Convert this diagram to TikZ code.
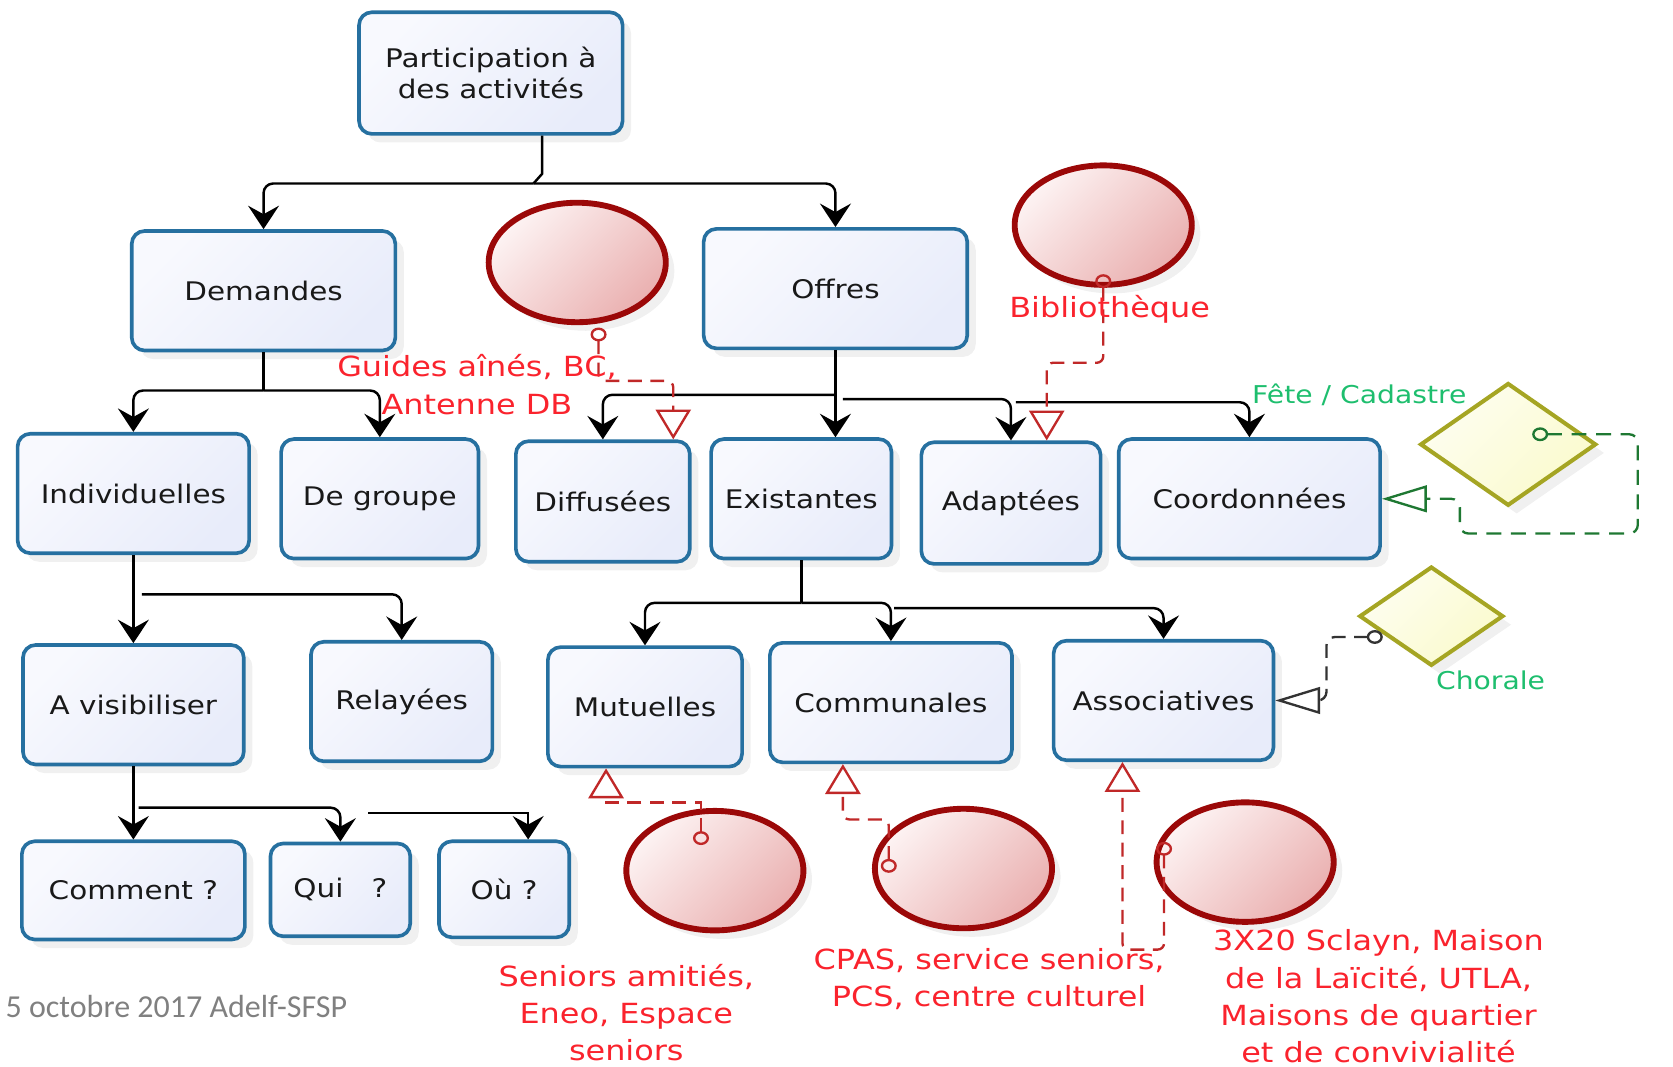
\documentclass[tikz,border=0pt]{standalone}
\usepackage{fontspec}
\setmainfont{DejaVu Sans}[FakeStretch=1.15]
\newfontfamily\footfont{Carlito}
\usetikzlibrary{arrows.meta,shapes.geometric,shadows,calc}
\definecolor{boxblue}{RGB}{38,112,160}
\definecolor{boxtop}{RGB}{248,249,254}
\definecolor{boxbot}{RGB}{232,236,250}
\definecolor{darkred}{RGB}{155,8,8}
\definecolor{pinktop}{RGB}{253,243,243}
\definecolor{pinkbot}{RGB}{234,176,176}
\definecolor{olivec}{RGB}{165,165,35}
\definecolor{diatop}{RGB}{254,254,240}
\definecolor{diabot}{RGB}{250,250,205}
\definecolor{assocred}{RGB}{192,40,40}
\definecolor{lblred}{RGB}{250,35,45}
\definecolor{lblgreen}{RGB}{30,190,110}
\definecolor{assocgreen}{RGB}{30,120,50}
\definecolor{footgray}{RGB}{128,128,128}
\begin{document}
\begin{tikzpicture}[x=1pt,y=-1pt,
  box/.style={draw=boxblue, line width=3.4pt, rounded corners=12pt, top color=boxtop, bottom color=boxbot, shading angle=45,
    drop shadow={opacity=0.12, shadow xshift=8pt, shadow yshift=-8pt}, inner sep=0pt,
    font=\fontsize{24}{29}\selectfont, text=black!90, align=center},
  pinkc/.style={ellipse, draw=darkred, line width=5.5pt, top color=pinktop, bottom color=pinkbot, shading angle=45,
    drop shadow={opacity=0.12, shadow xshift=8pt, shadow yshift=-8pt}, inner sep=0pt, minimum width=166pt, minimum height=112pt},
  dia/.style={diamond, draw=olivec, line width=3.8pt, top color=diatop, bottom color=diabot, shading angle=45,
    drop shadow={opacity=0.12, shadow xshift=8pt, shadow yshift=-8pt}, inner sep=0pt},
  line/.style={draw=black, line width=2.3pt, rounded corners=9pt},
  conn/.style={line, -{Stealth[length=22pt,width=29pt,inset=8pt]}},
  assocR/.style={draw=assocred, line width=2.2pt, dash pattern=on 13pt off 8pt, rounded corners=6pt},
  assocG/.style={draw=assocgreen, line width=2.2pt, dash pattern=on 14pt off 9pt, rounded corners=8pt},
  assocK/.style={draw=black!80, line width=2.2pt, dash pattern=on 13pt off 8pt, rounded corners=8pt},
  tipV/.style={{Circle[open,length=13pt,width=15pt]}-{Triangle[open,length=28pt,width=33pt]}},
  tipH/.style={{Circle[open,length=15pt,width=13pt]}-{Triangle[open,length=42pt,width=25pt]}},
  redlbl/.style={text=lblred, font=\fontsize{26}{35}\selectfont, align=center, inner sep=0pt},
  greenlbl/.style={text=lblgreen, font=\fontsize{23}{28}\selectfont, inner sep=0pt},
  foot/.style={text=footgray, font=\footfont\fontsize{30}{36}\selectfont, inner sep=0pt}
]
\useasboundingbox (0,0) rectangle (1568,1000);

% ---- boxes
\node[box, minimum width=247pt, minimum height=114pt] (part) at (460,68.5) {Participation à\\des activités};
\node[box, minimum width=247pt, minimum height=112pt] (dem) at (247,272.5) {Demandes};
\node[box, minimum width=247pt, minimum height=112pt] (off) at (783,270.5) {Offres};
\node[box, minimum width=217pt, minimum height=112pt] (ind) at (125,462.5) {Individuelles};
\node[box, minimum width=185pt, minimum height=112pt] (grp) at (356,467.5) {De groupe};
\node[box, minimum width=163pt, minimum height=113pt] (dif) at (565,470) {Diffusées};
\node[box, minimum width=169pt, minimum height=112pt] (exi) at (751,467.5) {Existantes};
\node[box, minimum width=168pt, minimum height=114pt] (ada) at (947.5,471.5) {Adaptées};
\node[box, minimum width=245pt, minimum height=112pt] (coo) at (1171,467.5) {Coordonnées};
\node[box, minimum width=207pt, minimum height=112pt] (vis) at (125,660.5) {A visibiliser};
\node[box, minimum width=170pt, minimum height=112pt] (rel) at (376.5,657.5) {Relayées};
\node[box, minimum width=182pt, minimum height=112pt] (mut) at (604.5,662.5) {Mutuelles};
\node[box, minimum width=227pt, minimum height=112pt] (com) at (835,658.5) {Communales};
\node[box, minimum width=206pt, minimum height=112pt] (ass) at (1090.5,656.5) {Associatives};
\node[box, minimum width=209pt, minimum height=92pt] (cmt) at (125,834.5) {Comment ?};
\node[box, minimum width=131pt, minimum height=87pt] (qui) at (319,834) {Qui~~~?};
\node[box, minimum width=122pt, minimum height=90pt] (ou) at (472.5,833.5) {Où ?};

% ---- ellipses
\node[pinkc] (e1) at (541,246) {};
\node[pinkc] (e2) at (1034,211) {};
\node[pinkc] (eA) at (670,816) {};
\node[pinkc] (eB) at (903,814) {};
\node[pinkc] (eC) at (1167,808) {};

% ---- diamonds
\node[dia, minimum width=165pt, minimum height=115pt] (d1) at (1413.5,416.5) {};
\node[dia, minimum width=135pt, minimum height=93pt] (d2) at (1341.5,577.5) {};

% ---- black connectors
\coordinate (j1a) at (508,163);
\coordinate (j1) at (500,172);
\draw[line, rounded corners=0pt] (part.south -| j1a) -- (j1a) -- (j1);
\draw[conn] (j1) -| (dem.north);
\draw[conn] (j1) -| (off.north);

\coordinate (j2) at (247,366);
\draw[line] (dem.south) -- (j2);
\draw[conn] (j2) -| (ind.north);
\draw[conn] (j2) -| (grp.north);

\coordinate (j3) at (783,370);
\draw[conn] (off.south) -- (j3 |- exi.north);
\draw[conn] (j3) -| (dif.north);
\coordinate (j3b) at (790,374);
\draw[conn] (j3b) -| (ada.north);
\coordinate (j3c) at (952,377);
\draw[conn] (j3c) -| (coo.north);

\draw[conn] (ind.south) -- (vis.north);
\coordinate (j4) at (133,557);
\draw[conn] (j4) -| (rel.north);

\draw[conn] (vis.south) -- (cmt.north);
\coordinate (j5) at (130,757);
\draw[conn] (j5) -| (qui.north);
\coordinate (j5b) at (345,762);
\coordinate (j5c) at (495,762);
\draw[conn, rounded corners=0pt] (j5b) -- (j5c) -- (j5c |- ou.north);

\coordinate (j6) at (751,565);
\draw[line] (exi.south) -- (j6);
\draw[conn] (j6) -| (mut.north);
\draw[conn] (j6) -| (com.north);
\coordinate (j6b) at (838,570);
\draw[conn] (j6b) -| (ass.north);

% ---- dashed associations
\coordinate (pA) at (561,307);
\coordinate (tA) at (631,357);
\draw[assocR, tipV] (pA) |- (tA) -- (tA |- dif.north);

\coordinate (pB) at (1034,257);
\coordinate (tB) at (981,340);
\draw[assocR, tipV] (pB) |- (tB) -- (tB |- ada.north);

\coordinate (pC) at (1436,407);
\coordinate (cC1) at (1535,500);
\coordinate (cC2) at ($(coo.east)+(73,0)$);
\draw[assocG, tipH] (pC) -| (cC1) -| (cC2) -- (coo.east);

\coordinate (pD) at (1296,597);
\coordinate (cD) at ($(ass.east)+(48,0)$);
\draw[assocK, tipH] (pD) -| (cD) -- (ass.east);

\coordinate (pE) at (657,792);
\coordinate (tE) at (568,752);
\draw[assocR, tipV, rounded corners=0pt] (pE) |- (tE) -- (tE |- mut.south);

\coordinate (pF) at (833,818);
\coordinate (tF) at (790,768);
\draw[assocR, tipV] (pF) |- (tF) -- (tF |- com.south);

\coordinate (pG) at (1091,789);
\coordinate (tG) at (1052,890);
\draw[assocR, tipV] (pG) |- (tG) -- (tG |- ass.south);

% ---- labels
\node[redlbl] (lg) at (447,360.5) {Guides aînés, BC,\\Antenne DB};
\node[redlbl] (lbib) at (1040,290) {Bibliothèque};
\node[redlbl] (lA) at (587,949) {Seniors amitiés,\\Eneo, Espace\\seniors};
\node[redlbl] (lB) at (927,917.5) {CPAS, service seniors,\\PCS, centre culturel};
\node[redlbl] (lC) at (1292,934) {3X20 Sclayn, Maison\\de la Laïcité, UTLA,\\Maisons de quartier\\et de convivialité};
\node[greenlbl] (lfete) at (1274,370) {Fête / Cadastre};
\node[greenlbl] (lchor) at (1397,638) {Chorale};
\node[foot, anchor=west] (ft) at (5,943) {5 octobre 2017 Adelf-SFSP};
\end{tikzpicture}
\end{document}
